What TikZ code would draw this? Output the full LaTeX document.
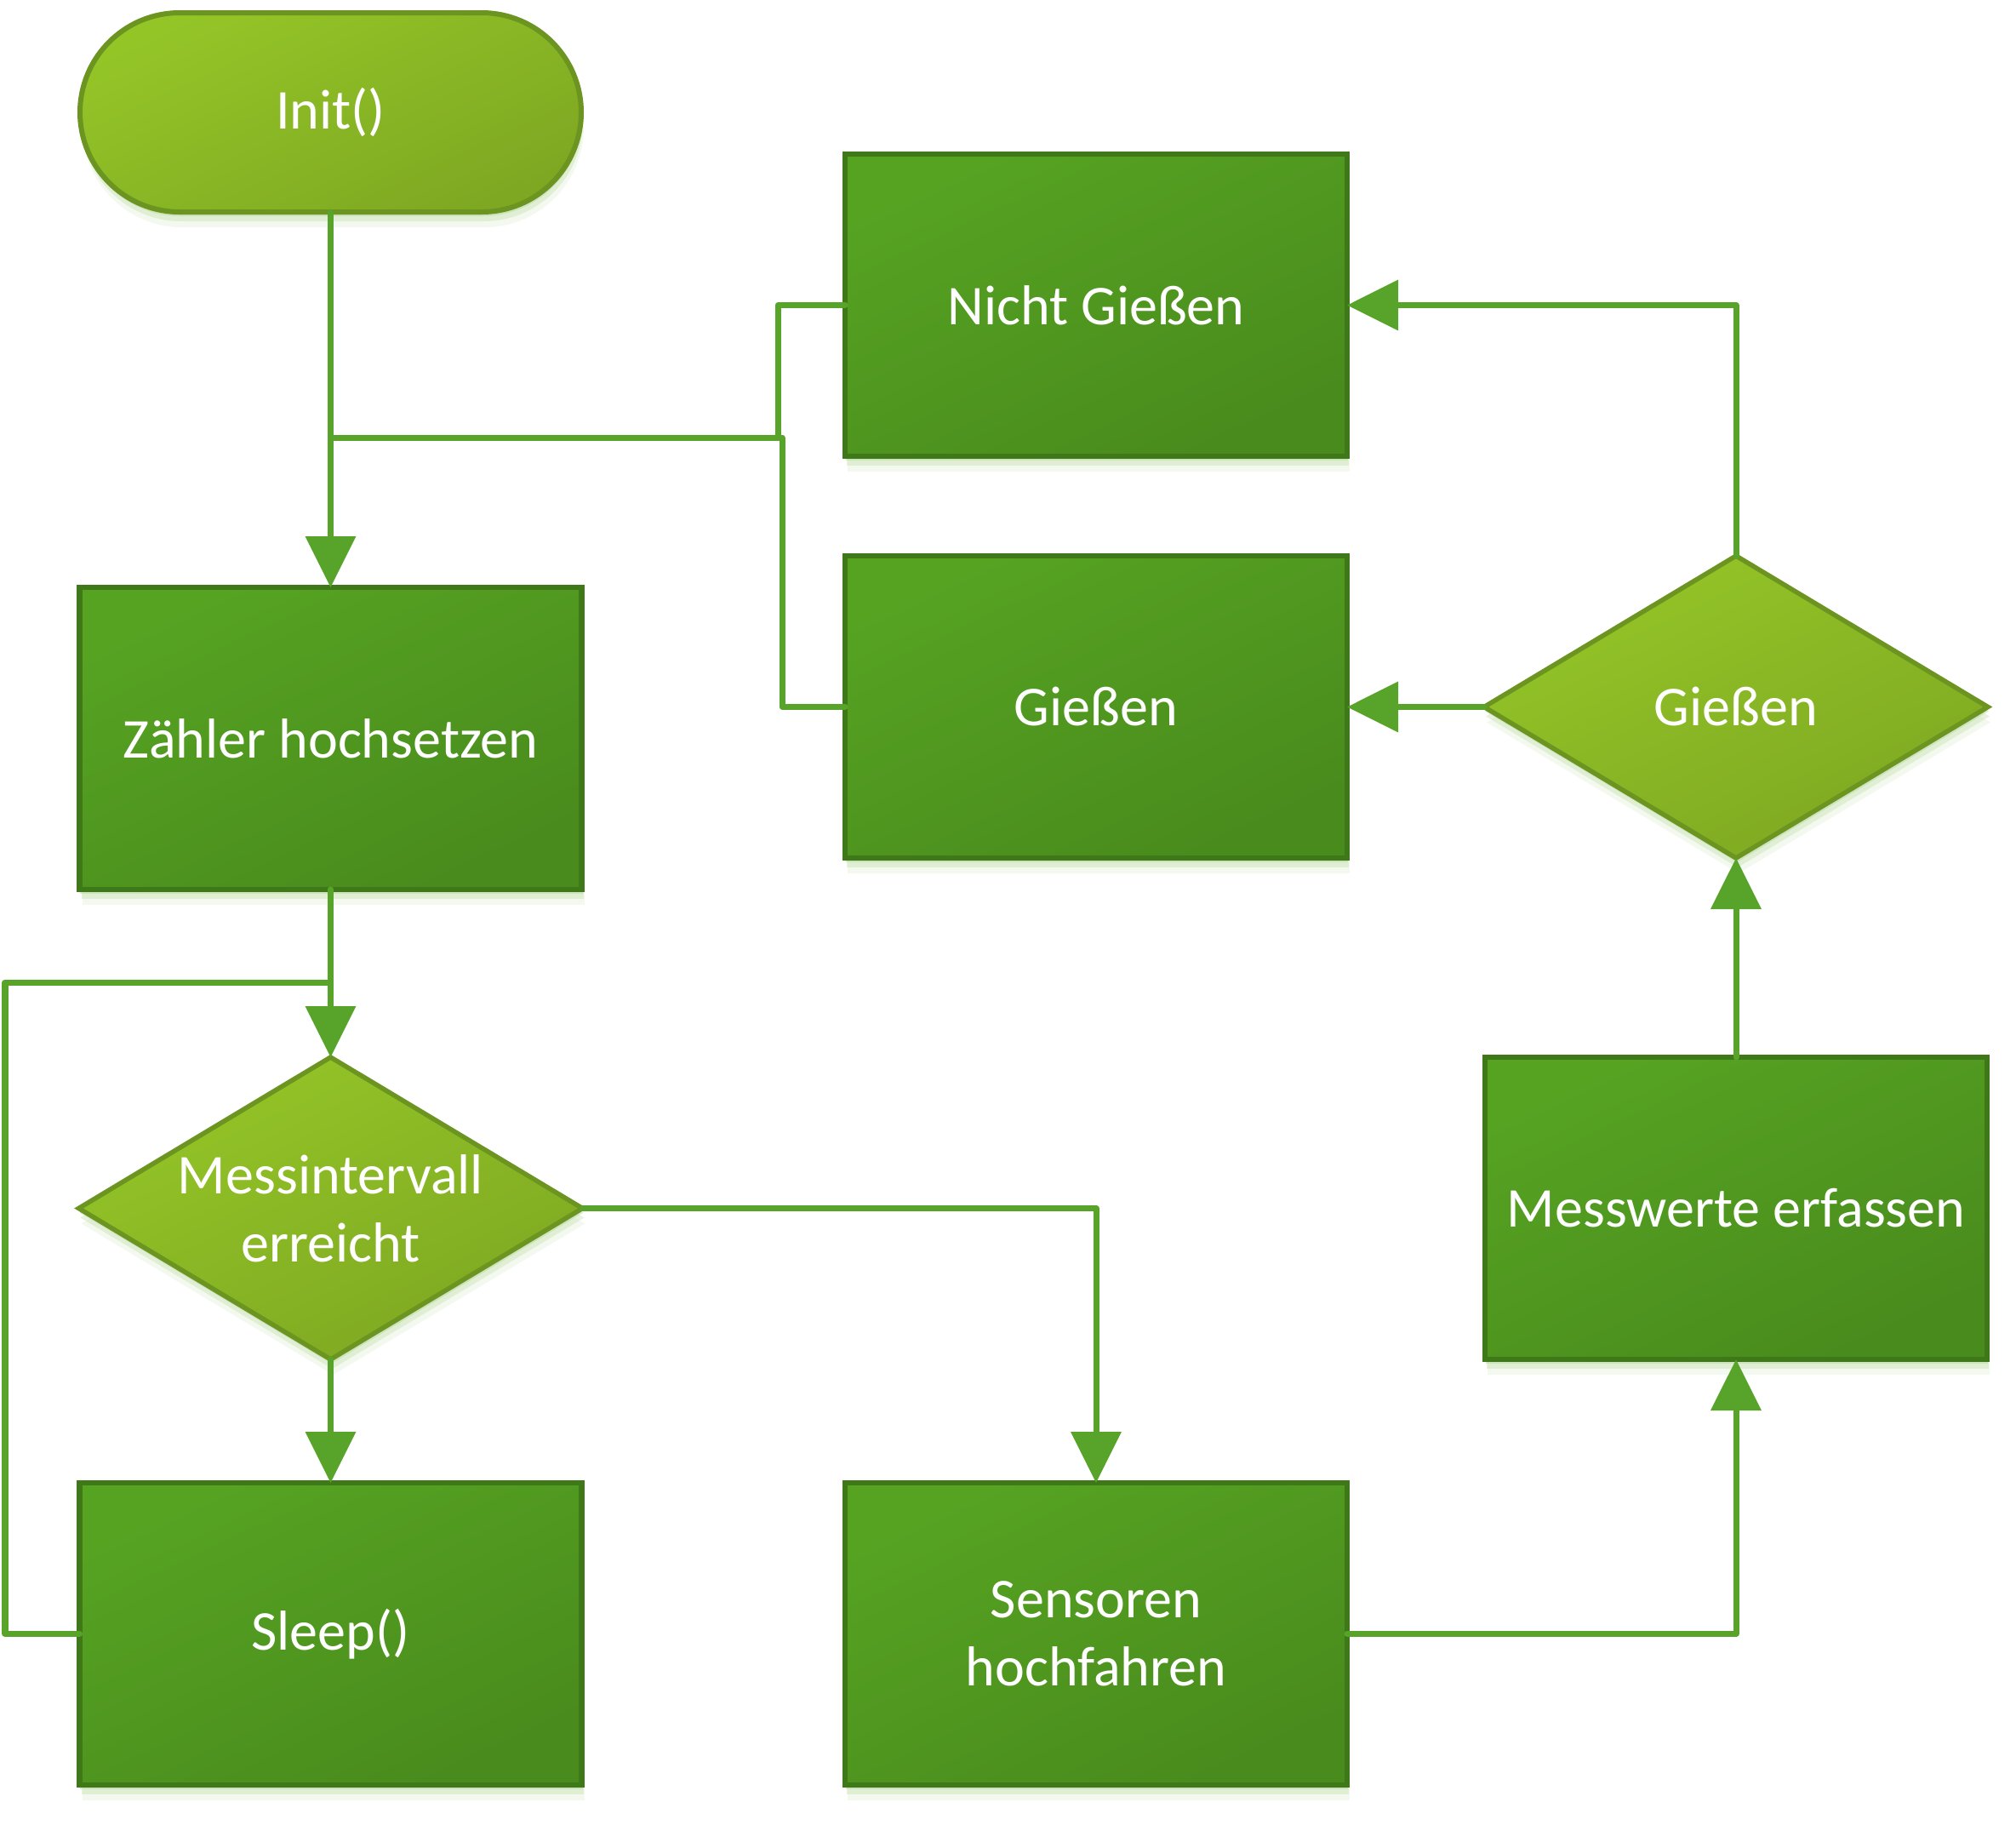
\documentclass[tikz,border=0pt]{standalone}
\usepackage{fontspec}
\setmainfont{Carlito}
\usetikzlibrary{shapes.geometric,shapes.misc,arrows.meta,shadows}
\definecolor{boxtop}{HTML}{56A322}
\definecolor{boxbot}{HTML}{498B1D}
\definecolor{boxline}{HTML}{3E7818}
\definecolor{dectop}{HTML}{94C527}
\definecolor{decbot}{HTML}{7EA822}
\definecolor{decline}{HTML}{6B9420}
\definecolor{conn}{HTML}{58A42A}
\definecolor{glow}{HTML}{BCDBA3}
\newcommand\lbl{\fontsize{18.8}{22.8}\selectfont}
\begin{document}
\begin{tikzpicture}[
  every node/.style={font=\lbl, text=white, outer sep=0pt, align=center},
  softglow/.style={
    drop shadow={shadow xshift=0.01cm, shadow yshift=-0.05cm, fill=glow, opacity=0.55},
    drop shadow={shadow xshift=0.02cm, shadow yshift=-0.11cm, fill=glow, opacity=0.35},
    drop shadow={shadow xshift=0.03cm, shadow yshift=-0.18cm, fill=glow, opacity=0.18}},
  procbox/.style={softglow, rectangle, draw=boxline, line width=0.065cm,
    top color=boxtop, bottom color=boxbot, shading angle=25,
    minimum width=5.9cm, minimum height=3.55cm, inner sep=0pt},
  decbox/.style={softglow, diamond, draw=decline, line width=0.055cm,
    top color=dectop, bottom color=decbot, shading angle=25,
    minimum width=5.92cm, minimum height=3.55cm, inner sep=0pt},
  termbox/.style={softglow, rounded rectangle, draw=decline, line width=0.06cm,
    top color=dectop, bottom color=decbot, shading angle=25,
    minimum width=5.89cm, minimum height=2.34cm, inner sep=0pt},
  link/.style={draw=conn, line width=0.07cm, line cap=round, line join=round},
  arrow/.style={link, -{Triangle[length=0.6cm, width=0.58cm]}}
]
\useasboundingbox (0,0) rectangle (23.69,-21.44);

\node[termbox] (init) at (3.885,-1.32) {Init()};
\node[procbox] (nicht) at (12.88,-3.585) {Nicht Gießen};
\node[procbox] (giessb) at (12.88,-8.305) {Gießen};
\node[decbox, label={center:Gießen}] (giessd) at (20.40,-8.305) {};
\node[procbox] (zaehler) at (3.885,-8.675) {Zähler hochsetzen};
\node[decbox, label={center:{Messintervall\\erreicht}}] (mess) at (3.885,-14.195) {};
\node[procbox] (sleep) at (3.885,-19.195) {Sleep()};
\node[procbox] (sensor) at (12.88,-19.195) {Sensoren\\hochfahren};
\node[procbox] (messw) at (20.40,-14.195) {Messwerte erfassen};

\coordinate (j1) at (3.885,-5.14);
\coordinate (kN) at (9.14,-5.14);
\coordinate (kG) at (9.19,-5.14);
\coordinate (j2) at (3.885,-11.54);
\coordinate (kL) at (0.06,-11.54);

\draw[arrow] (init.south) -- (zaehler.north);
\draw[link] (nicht.west) -| (kN) -- (j1);
\draw[link] (giessb.west) -| (kG) -- (j1);
\draw[arrow] (zaehler.south) -- (mess.north);
\draw[link] (sleep.west) -| (kL) -- (j2);
\draw[arrow] (mess.south) -- (sleep.north);
\draw[arrow] (mess.east) -| (sensor.north);
\draw[arrow] (sensor.east) -| (messw.south);
\draw[arrow] (messw.north) -- (giessd.south);
\draw[arrow] (giessd.west) -- (giessb.east);
\draw[arrow] (giessd.north) |- (nicht.east);
\end{tikzpicture}
\end{document}
